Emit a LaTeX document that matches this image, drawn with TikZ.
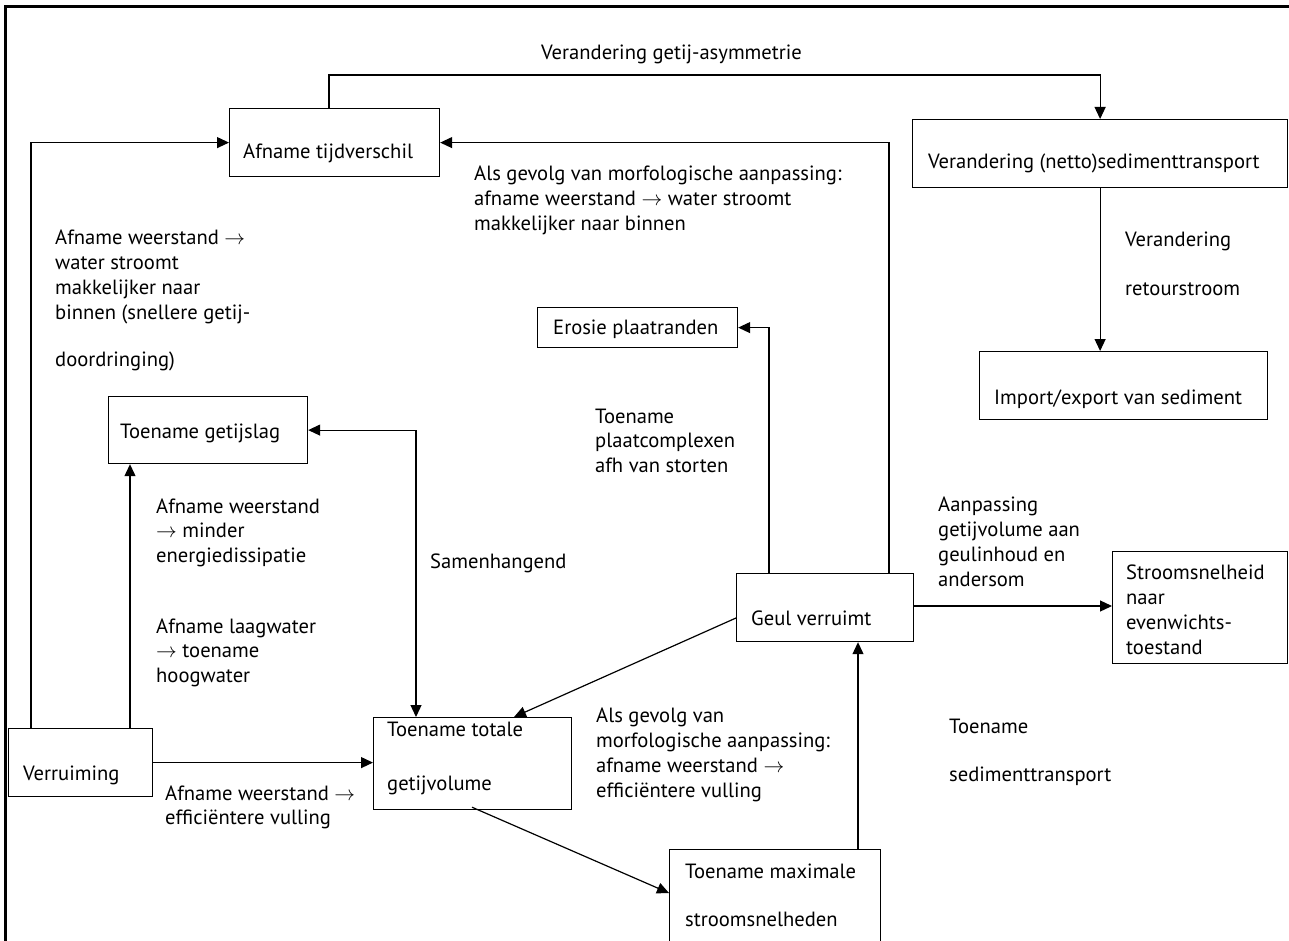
\documentclass[tikz,border=0pt]{standalone}
\usepackage{fontspec}
\setmainfont{PT Sans}
\usetikzlibrary{arrows.meta}
\tikzset{
  box/.style={draw, line width=1.2pt, inner sep=0pt, anchor=north west},
  lbl/.style={anchor=base west, inner sep=0pt, align=left, font=\fontsize{20.6}{24.7}\selectfont},
  arr/.style={line width=1.2pt, -{Triangle[length=12pt,width=11pt]}},
  arrtwo/.style={line width=1.2pt, {Triangle[length=12pt,width=11pt]}-{Triangle[length=12pt,width=11pt]}},
}
\begin{document}
\begin{tikzpicture}[x=1pt,y=-1pt]
\useasboundingbox (0,0) rectangle (1289,941);
\clip (0,0) rectangle (1289,941);
\fill[white] (0,0) rectangle (1289,941);
% frame
\draw[line width=3pt] (5,945) -- (5,7) -- (1295,7);

% boxes
\node[box, minimum width=210pt, minimum height=68pt] (afn) at (229,108) {};
\node[box, minimum width=375pt, minimum height=68pt] (ver) at (912,119) {};
\node[box, minimum width=288pt, minimum height=68pt] (imp) at (979,351) {};
\node[box, minimum width=200pt, minimum height=40pt] (ero) at (537,307) {};
\node[box, minimum width=199pt, minimum height=67pt] (get) at (108,396) {};
\node[box, minimum width=144pt, minimum height=68pt] (vrm) at (8,728) {};
\node[box, minimum width=198pt, minimum height=92pt] (tot) at (373,717) {};
\node[box, minimum width=177pt, minimum height=68pt] (geul) at (736,573) {};
\node[box, minimum width=175pt, minimum height=112pt] (str) at (1112,551) {};
\node[box, minimum width=211pt, minimum height=120pt] (max) at (669,849) {};

% box texts (base anchor = baseline of the last line)
\node[lbl] (afnT) at (243,159) {Afname tijdverschil};
\node[lbl] (verT) at (928,169) {Verandering (netto)sedimenttransport};
\node[lbl] (impT) at (994,404) {Import/export van sediment};
\node[lbl] (eroT) at (553,334) {Erosie plaatranden};
\node[lbl] (getT) at (120,438) {Toename getijslag};
\node[lbl] (vrmT) at (23,780) {Verruiming};
\node[lbl] (totT) at (387,790) {Toename totale\\[29.3pt]getijvolume};
\node[lbl] (geulT) at (751,625) {Geul verruimt};
\node[lbl] (strT) at (1126,654) {Stroomsnelheid\\naar\\evenwichts-\\toestand};
\node[lbl] (maxT) at (685,926) {Toename maximale\\[23.3pt]stroomsnelheden};

% labels
\node[lbl] (l1) at (541,60) {Verandering getij-asymmetrie};
\node[lbl] (l2) at (474,230.4) {Als gevolg van morfologische aanpassing:\\afname weerstand $\rightarrow$ water stroomt\\makkelijker naar binnen};
\node[lbl] (l3) at (55,366) {Afname weerstand $\rightarrow$\\water stroomt\\makkelijker naar\\binnen (snellere getij-\\[22.3pt]doordringing)};
\node[lbl] (l4) at (1125,295) {Verandering\\[24.3pt]retourstroom};
\node[lbl] (l5) at (595,472.4) {Toename\\plaatcomplexen\\afh van storten};
\node[lbl] (l6) at (156,562.4) {Afname weerstand\\$\rightarrow$ minder\\energiedissipatie};
\node[lbl] (l7) at (156,682.4) {Afname laagwater\\$\rightarrow$ toename\\hoogwater};
\node[lbl] (l8) at (430,568) {Samenhangend};
\node[lbl] (l9) at (165,824.7) {Afname weerstand $\rightarrow$\\efficiëntere vulling};
\node[lbl] (l10) at (596,797) {Als gevolg van\\morfologische aanpassing:\\afname weerstand $\rightarrow$\\efficiëntere vulling};
\node[lbl] (l11) at (938,586) {Aanpassing\\getijvolume aan\\geulinhoud en\\andersom};
\node[lbl] (l12) at (949,781) {Toename\\[23.3pt]sedimenttransport};

% connectors
\draw[arr] ([xshift=100pt]afn.north west) -- ++(0,-33) -| (ver.north);
\draw[arr] ([xshift=23pt]vrm.north west) |- (afn.west);
\draw[arr] ([xshift=153pt]geul.north west) |- (afn.east);
\draw[arr] ([xshift=33pt]geul.north west) |- (ero.east);
\draw[arr] (ver.south) -- (ver.south |- imp.north);
\draw[arrtwo] ([xshift=43pt]tot.north west) |- (get.east);
\draw[arr] ([xshift=122pt]vrm.north west) -- ([xshift=122pt]vrm.north west |- get.south);
\draw[arr] (vrm.east) -- (vrm.east -| tot.west);
\draw[arr] ([yshift=-45pt]geul.north west) -- ([xshift=141pt]tot.north west);
\draw[arr] ([xshift=99pt,yshift=3pt]tot.south west) -- ([yshift=-44pt]max.north west);
\draw[arr] ([xshift=189pt]max.north west) -- ([xshift=189pt]max.north west |- geul.south);
\draw[arr] ([yshift=-33pt]geul.north east) -- ([yshift=-33pt]geul.north east -| str.west);
\end{tikzpicture}
\end{document}
